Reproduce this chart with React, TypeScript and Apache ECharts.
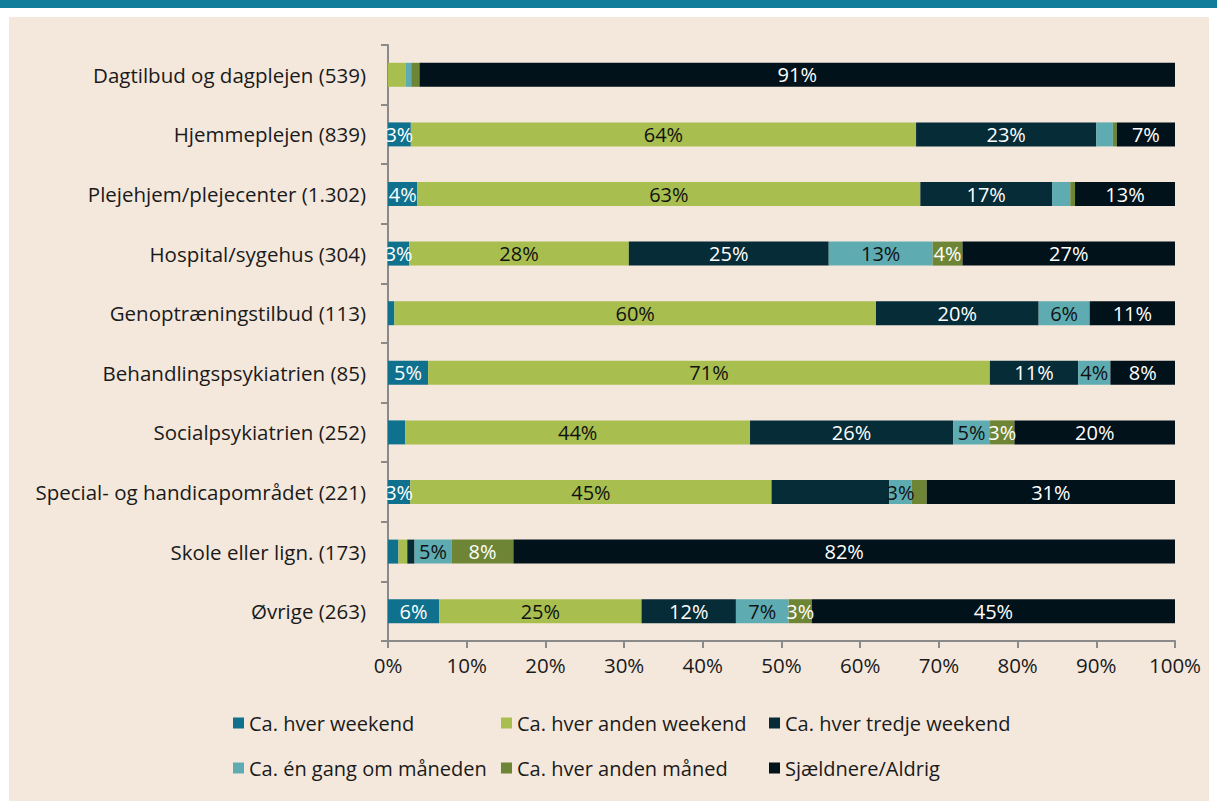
import React, { useEffect, useRef } from "react";
import * as echarts from "echarts";

const categories = [
  "Dagtilbud og dagplejen (539)",
  "Hjemmeplejen (839)",
  "Plejehjem/plejecenter (1.302)",
  "Hospital/sygehus (304)",
  "Genoptræningstilbud (113)",
  "Behandlingspsykiatrien (85)",
  "Socialpsykiatrien (252)",
  "Special- og handicapområdet (221)",
  "Skole eller lign. (173)",
  "Øvrige (263)",
];

const seriesNames = [
  "Ca. hver weekend",
  "Ca. hver anden weekend",
  "Ca. hver tredje weekend",
  "Ca. én gang om måneden",
  "Ca. hver anden måned",
  "Sjældnere/Aldrig",
];

// raw shares in percent, per series, in category order (top to bottom)
const hverWeekend = [0, 2.9, 3.7, 2.7, 0.8, 5.1, 2.2, 2.8, 1.3, 6.4];
const hverAndenWeekend = [2.1, 64.2, 63.4, 27.9, 60.4, 71.3, 43.8, 45.4, 1.1, 25.3];
const hverTredjeWeekend = [0, 22.9, 16.6, 25.4, 20.4, 11.2, 25.8, 14.8, 0.9, 11.8];
const enGangMaaned = [0.7, 2.1, 2.3, 13.2, 6.4, 4.1, 4.7, 2.8, 4.6, 6.6];
const hverAndenMaaned = [1.0, 0.5, 0.6, 3.8, 0, 0, 3.1, 1.9, 7.7, 2.9];
const sjaeldnere = [91.2, 7.4, 12.6, 27.0, 10.7, 8.2, 20.4, 31.2, 82.3, 45.4];

const rawSeries = [hverWeekend, hverAndenWeekend, hverTredjeWeekend, enGangMaaned, hverAndenMaaned, sjaeldnere];

// labels not shown in the original: [categoryIndex, seriesIndex]
const hiddenLabels = [[7, 2]];

const xTicks = [0, 10, 20, 30, 40, 50, 60, 70, 80, 90, 100];

const colors = ["#10718e", "#a8be4e", "#062c38", "#5eacb1", "#6e8535", "#01121a"];
const labelColors = ["#ffffff", "#111111", "#ffffff", "#111111", "#ffffff", "#ffffff"];

const FONT = "'Open Sans', sans-serif";

export default function App() {
  const ref = useRef<HTMLDivElement>(null);

  useEffect(() => {
    if (!ref.current) return;
    const chart = echarts.init(ref.current, undefined, { renderer: "svg" });

    const rowSums = categories.map((_, i) => rawSeries.reduce((s, arr) => s + arr[i], 0));

    const series = seriesNames.map((name, si) => ({
      name,
      type: "bar",
      stack: "total",
      barWidth: 24,
      itemStyle: { color: colors[si] },
      data: rawSeries[si].map((v, ci) => (v / rowSums[ci]) * 100),
      label: {
        show: true,
        position: "inside",
        color: labelColors[si],
        fontFamily: FONT,
        fontSize: 20,
        formatter: (p: any) => {
          const raw = rawSeries[si][p.dataIndex];
          if (raw < 2.5) return "";
          if (hiddenLabels.some(([c, s]) => c === p.dataIndex && s === si)) return "";
          return Math.round(raw) + "%";
        },
      },
      emphasis: { disabled: true },
    }));

    const legendPos = [
      [233, 713],
      [501, 713],
      [769, 713],
      [233, 758],
      [501, 758],
      [769, 758],
    ];

    chart.setOption({
      animation: false,
      backgroundColor: "#ffffff",
      textStyle: { fontFamily: FONT },
      graphic: [
        { type: "rect", silent: true, z: -10, shape: { x: 0, y: 0, width: 1217, height: 8 }, style: { fill: "#127d9b" } },
        { type: "rect", silent: true, z: -10, shape: { x: 9, y: 17, width: 1200, height: 784 }, style: { fill: "#f4e8dc" } },
      ],
      legend: seriesNames.map((name, i) => ({
        data: [name],
        left: legendPos[i][0],
        top: legendPos[i][1],
        padding: 0,
        icon: "rect",
        itemWidth: 11,
        itemHeight: 11,
        selectedMode: false,
        textStyle: { fontFamily: FONT, fontSize: 20, color: "#1a1a1a" },
      })),
      grid: { left: 388, right: 42, top: 45, bottom: 160, containLabel: false },
      xAxis: {
        type: "value",
        min: xTicks[0],
        max: xTicks[xTicks.length - 1],
        interval: 10,
        axisLine: { show: true, lineStyle: { color: "#8a8a8a", width: 2 } },
        axisTick: { show: true, length: 7, lineStyle: { color: "#8a8a8a", width: 2 } },
        splitLine: { show: false },
        axisLabel: { formatter: "{value}%", fontFamily: FONT, fontSize: 20.5, color: "#1a1a1a", margin: 13 },
      },
      yAxis: {
        type: "category",
        inverse: true,
        data: categories,
        axisLine: { show: true, lineStyle: { color: "#8a8a8a", width: 2 } },
        axisTick: { show: true, length: 7, alignWithLabel: false, lineStyle: { color: "#8a8a8a", width: 2 } },
        axisLabel: { fontFamily: FONT, fontSize: 20.5, color: "#1a1a1a", margin: 22 },
      },
      series,
    });

    return () => chart.dispose();
  }, []);

  return (
    <div
      ref={ref}
      style={{ position: "absolute", left: 0, top: 0, width: 1217, height: 801 }}
    />
  );
}
